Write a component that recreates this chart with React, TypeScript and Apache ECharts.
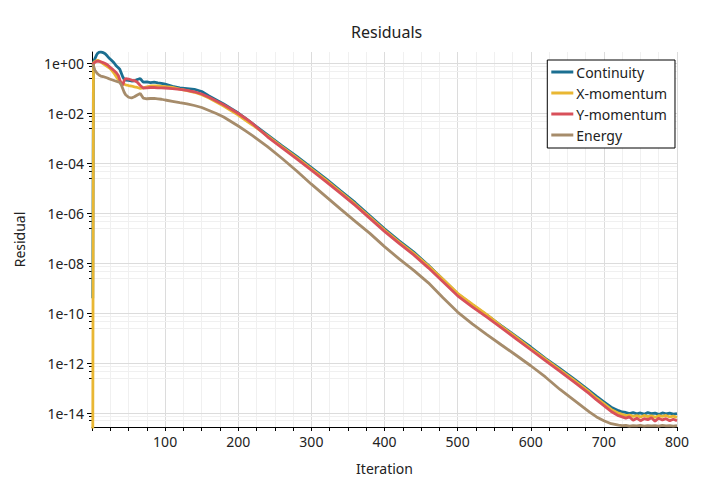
import React, { useRef, useEffect } from 'react'
import * as echarts from 'echarts'

const ITERATIONS = [
  1, 2, 4, 6, 8, 10, 12, 15, 18, 21, 24, 27, 30, 33, 36, 38, 40, 42, 44, 46, 50, 54, 58, 62, 66, 70,
  75, 80, 85, 90, 95, 100, 110, 120, 130, 140, 150, 160, 170, 180, 190, 200, 210, 220, 240, 260, 280,
  300, 320, 340, 360, 380, 400, 420, 440, 460, 480, 500, 520, 540, 560, 580, 600, 620, 640, 660, 680,
  690, 700, 710, 720, 725, 730, 735, 740, 745, 750, 755, 760, 765, 770, 775, 780, 785, 790, 795, 800,
]

const CONTINUITY = [
  3.98e-10, 1.122, 1.585, 2.138, 2.63, 2.884, 2.951, 2.754, 2.455, 1.995, 1.585, 1.318, 1.072, 0.813,
  0.676, 0.589, 0.417, 0.295, 0.234, 0.219, 0.214, 0.2, 0.204, 0.229, 0.251, 0.182, 0.186, 0.174,
  0.182, 0.17, 0.162, 0.151, 0.123, 0.107, 0.1, 0.0933, 0.0759, 0.0501, 0.0347, 0.024, 0.0158,
  0.01047, 6.31e-3, 3.8e-3, 1.38e-3, 5.01e-4, 1.905e-4, 6.76e-5, 2.4e-5, 7.94e-6, 2.69e-6, 7.94e-7,
  2.4e-7, 7.94e-8, 2.82e-8, 8.32e-9, 2.24e-9, 6.03e-10, 2.19e-10, 8.51e-11, 3.16e-11, 1.2e-11,
  4.47e-12, 1.58e-12, 6.03e-13, 2.24e-13, 7.94e-14, 4.68e-14, 2.82e-14, 1.74e-14, 1.26e-14, 1.12e-14,
  1.07e-14, 9.55e-15, 1.05e-14, 9.33e-15, 1.02e-14, 9.12e-15, 1.05e-14, 9.55e-15, 1.0e-14, 8.91e-15,
  1.02e-14, 9.33e-15, 1.0e-14, 9.12e-15, 9.55e-15,
]

const X_MOMENTUM = [
  1e-16, 1.047, 1.202, 1.318, 1.349, 1.259, 1.148, 1.0, 0.871, 0.759, 0.661, 0.537, 0.417, 0.302,
  0.224, 0.195, 0.174, 0.158, 0.148, 0.141, 0.132, 0.126, 0.117, 0.11, 0.102, 0.107, 0.117, 0.126,
  0.126, 0.126, 0.123, 0.12, 0.11, 0.0955, 0.0832, 0.0708, 0.0562, 0.0417, 0.0288, 0.02, 0.0132,
  8.71e-3, 5.37e-3, 3.39e-3, 1.26e-3, 4.57e-4, 1.7e-4, 6.03e-5, 2.14e-5, 7.08e-6, 2.34e-6, 7.08e-7,
  2.14e-7, 7.08e-8, 2.51e-8, 7.94e-9, 2.29e-9, 6.31e-10, 2.34e-10, 8.91e-11, 3.02e-11, 1.1e-11,
  3.98e-12, 1.45e-12, 5.37e-13, 2.0e-13, 7.08e-14, 3.98e-14, 2.4e-14, 1.41e-14, 1.0e-14, 8.91e-15,
  7.94e-15, 8.32e-15, 7.41e-15, 7.94e-15, 7.08e-15, 8.13e-15, 7.24e-15, 7.76e-15, 6.92e-15, 7.94e-15,
  7.41e-15, 8.13e-15, 7.08e-15, 7.59e-15, 6.76e-15,
]

const Y_MOMENTUM = [
  0.891, 1.0, 1.122, 1.23, 1.259, 1.23, 1.175, 1.096, 1.0, 0.891, 0.741, 0.631, 0.525, 0.437, 0.331,
  0.224, 0.151, 0.138, 0.209, 0.251, 0.24, 0.219, 0.209, 0.178, 0.132, 0.105, 0.107, 0.11, 0.11, 0.107,
  0.107, 0.105, 0.1, 0.0933, 0.0851, 0.0741, 0.0603, 0.0447, 0.0316, 0.0224, 0.0151, 0.01, 6.31e-3,
  3.8e-3, 1.17e-3, 4.17e-4, 1.51e-4, 5.37e-5, 1.86e-5, 6.31e-6, 2.09e-6, 6.31e-7, 1.91e-7, 6.31e-8,
  2.19e-8, 6.61e-9, 1.82e-9, 5.01e-10, 1.82e-10, 7.08e-11, 2.63e-11, 9.55e-12, 3.47e-12, 1.26e-12,
  4.68e-13, 1.7e-13, 6.03e-14, 3.39e-14, 2.0e-14, 1.17e-14, 7.94e-15, 7.08e-15, 6.31e-15, 7.08e-15,
  5.25e-15, 6.31e-15, 5.01e-15, 6.03e-15, 5.5e-15, 6.61e-15, 4.79e-15, 6.31e-15, 5.37e-15, 6.03e-15,
  5.01e-15, 5.75e-15, 5.01e-15,
]

const ENERGY = [
  0.955, 0.794, 0.537, 0.447, 0.38, 0.339, 0.316, 0.302, 0.282, 0.263, 0.24, 0.224, 0.209, 0.195,
  0.182, 0.174, 0.141, 0.1, 0.0708, 0.0562, 0.0447, 0.0417, 0.0468, 0.055, 0.0631, 0.0417, 0.0389,
  0.0398, 0.0407, 0.0389, 0.0372, 0.0347, 0.0309, 0.0275, 0.0245, 0.0209, 0.0174, 0.0132, 0.01,
  7.24e-3, 4.79e-3, 3.16e-3, 2.0e-3, 1.26e-3, 4.68e-4, 1.58e-4, 5.01e-5, 1.48e-5, 4.68e-6, 1.48e-6,
  4.79e-7, 1.58e-7, 4.68e-8, 1.51e-8, 5.25e-9, 1.66e-9, 4.17e-10, 1.12e-10, 3.8e-11, 1.41e-11,
  5.37e-12, 2.09e-12, 7.94e-13, 2.82e-13, 8.91e-14, 3.16e-14, 1.12e-14, 7.08e-15, 5.01e-15, 3.8e-15,
  3.31e-15, 3.16e-15, 3.24e-15, 3.02e-15, 3.16e-15, 3.09e-15, 3.24e-15, 3.02e-15, 3.16e-15, 3.09e-15,
  3.16e-15, 3.02e-15, 3.24e-15, 3.09e-15, 3.16e-15, 3.02e-15, 3.16e-15,
]

const SERIES_NAMES = ['Continuity', 'X-momentum', 'Y-momentum', 'Energy']
const SERIES_VALUES = [CONTINUITY, X_MOMENTUM, Y_MOMENTUM, ENERGY]
const COLORS = ['#1b6f91', '#e9b733', '#d8505a', '#a68c6b']

// labelled decades on the residual axis
const Y_TICKS = [1e-14, 1e-12, 1e-10, 1e-8, 1e-6, 1e-4, 1e-2, 1]
// small ticks between them
const Y_MINOR_TICKS = [
  0.75, 0.5, 0.25, 7.5e-3, 5e-3, 2.5e-3, 7.5e-5, 5e-5, 2.5e-5, 7.5e-7, 5e-7, 2.5e-7, 7.5e-9, 5e-9,
  2.5e-9, 7.5e-11, 5e-11, 2.5e-11, 7.5e-13, 5e-13, 2.5e-13, 7.5e-15, 5e-15,
]

const FONT = '"Noto Sans", "Open Sans", sans-serif'
const TEXT = '#222'

function expLabel(v: number) {
  const e = Math.round(Math.log10(v))
  return '1e' + (e < 0 ? '-' : '+') + String(Math.abs(e)).padStart(2, '0')
}

function App() {
  const chartRef = useRef<HTMLDivElement>(null)

  useEffect(() => {
    document.body.style.margin = '0'
    const chart = echarts.init(chartRef.current, null, { renderer: 'svg' })

    const option = {
      animation: false,
      textStyle: { fontFamily: FONT },
      title: {
        text: 'Residuals',
        left: 346,
        top: 19,
        textStyle: { fontSize: 16, fontWeight: 'normal', color: TEXT, fontFamily: FONT },
      },
      legend: {
        orient: 'vertical',
        right: 37,
        top: 60,
        padding: [5, 8, 6, 4],
        backgroundColor: '#fff',
        borderColor: '#000',
        borderWidth: 1,
        icon: 'rect',
        itemWidth: 22,
        itemHeight: 3,
        itemGap: 7,
        textStyle: { fontSize: 14, lineHeight: 14, color: TEXT, fontFamily: FONT, padding: [0, 0, 0, -2] },
        data: SERIES_NAMES,
      },
      grid: { left: 92, right: 35, top: 52, bottom: 63 },
      xAxis: {
        type: 'value',
        min: 0,
        max: 800,
        interval: 100,
        name: 'Iteration',
        nameLocation: 'middle',
        nameGap: 34,
        nameTextStyle: { fontSize: 14, color: TEXT, fontFamily: FONT },
        axisLine: { lineStyle: { color: '#000', width: 1 } },
        axisTick: { length: 4, lineStyle: { color: '#000' } },
        minorTick: { show: true, splitNumber: 4, length: 4, lineStyle: { color: '#000' } },
        axisLabel: { showMinLabel: false, fontSize: 14, color: TEXT, margin: 7, fontFamily: FONT },
        splitLine: { lineStyle: { color: '#dcdcdc' } },
        minorSplitLine: { show: true, lineStyle: { color: '#f0f0f0' } },
      },
      yAxis: [
        {
          type: 'log',
          min: 2.8e-15,
          max: 2.9,
          name: 'Residual',
          nameLocation: 'middle',
          nameGap: 66,
          nameTextStyle: { fontSize: 14, color: TEXT, fontFamily: FONT },
          axisLine: { show: true, lineStyle: { color: '#000', width: 1 } },
          axisTick: { show: true, length: 5, customValues: Y_TICKS, lineStyle: { color: '#000' } },
          axisLabel: {
            customValues: Y_TICKS,
            formatter: expLabel,
            fontSize: 14,
            color: TEXT,
            margin: 8,
            fontFamily: FONT,
          },
          splitLine: { show: true, lineStyle: { color: '#dcdcdc' } },
          z: 3,
        },
        {
          type: 'log',
          min: 2.8e-15,
          max: 2.9,
          position: 'left',
          axisLine: { show: false },
          axisTick: { show: true, length: 3, customValues: Y_MINOR_TICKS, lineStyle: { color: '#000' } },
          axisLabel: { show: false },
          splitLine: { show: true, lineStyle: { color: '#f0f0f0' } },
          z: 1,
        },
      ],
      series: SERIES_NAMES.map((name, k) => ({
        name,
        type: 'line',
        yAxisIndex: 0,
        showSymbol: false,
        symbol: 'none',
        color: COLORS[k],
        lineStyle: { width: 2.8, color: COLORS[k] },
        data: ITERATIONS.map((it, i) => [it, SERIES_VALUES[k][i]]),
      })),
    }

    chart.setOption(option)

    return () => {
      chart.dispose()
    }
  }, [])

  return <div ref={chartRef} style={{ width: 712, height: 490 }}></div>
}

export default App
